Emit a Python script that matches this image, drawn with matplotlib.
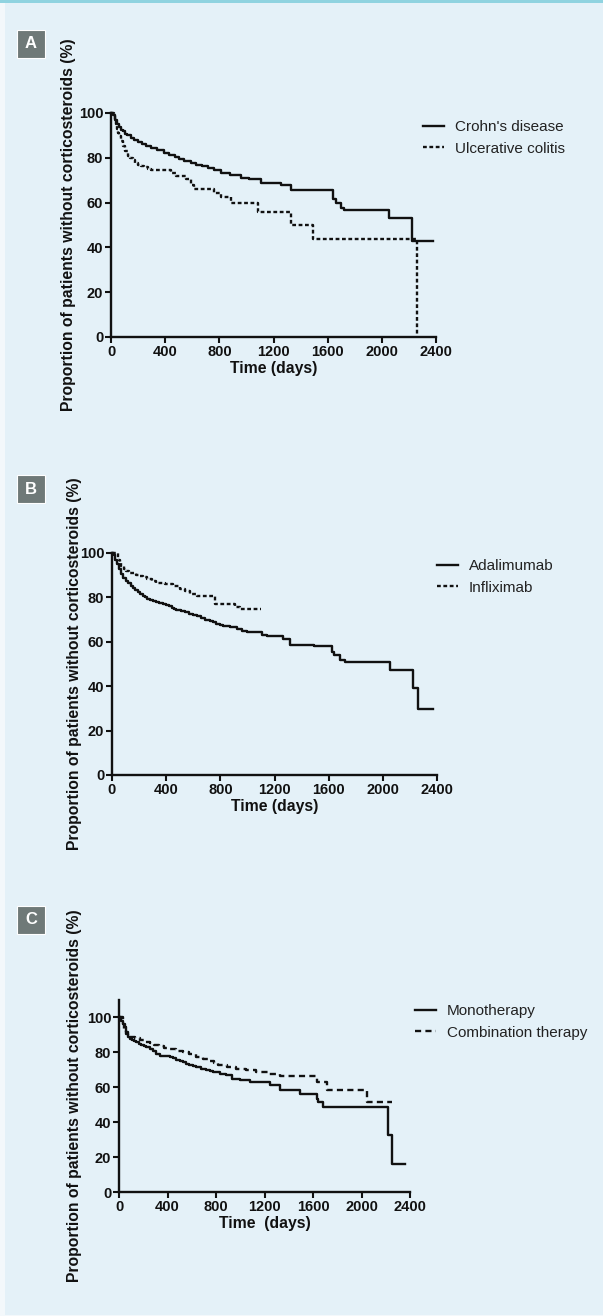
import matplotlib
matplotlib.use('Agg')
import matplotlib.pyplot as plt
from matplotlib.patches import Rectangle

plt.rcParams['font.family'] = ['Liberation Sans', 'DejaVu Sans']

W, H = 603, 1316
BG = '#E4F1F8'

# Panel A: Crohn's disease vs ulcerative colitis
a_cd_days = [0, 15, 30, 45, 60, 75, 86, 105, 120, 145, 172, 200, 230, 260, 295, 340, 394, 430, 470, 505,
             542, 590, 630, 670, 714, 760, 812, 880, 960, 1020, 1108, 1255, 1329, 1637, 1662, 1699, 1724,
             2055, 2224, 2376]
a_cd_pct = [100, 99, 97, 95.3, 93.8, 92.6, 91.9, 90.8, 90, 89, 88.1, 87.2, 86.3, 85.3, 84.4, 83.3, 82.2, 81.1,
            80.2, 79.3, 78.5, 77.7, 77, 76.3, 75.6, 74.5, 73.3, 72.4, 71.1, 70.4, 68.9, 67.7, 65.5, 61.5, 60,
            57.8, 56.7, 53.0, 42.7, 42.7]
a_uc_days = [0, 20, 30, 38, 45, 55, 62, 75, 86, 100, 123, 140, 160, 180, 197, 220, 240, 270, 295, 443, 480,
             554, 591, 615, 763, 812, 886, 1083, 1329, 1489, 2257]
a_uc_pct = [100, 98.5, 97, 95, 93, 91, 89.6, 87.4, 85.2, 83.2, 80.7, 79.8, 78.8, 77.8, 77, 76.2, 75.8, 75.2,
            74.7, 73.2, 71.9, 70.4, 67.7, 66.2, 64.4, 62.7, 59.7, 56, 50.1, 43.7, 0]

# Panel B: adalimumab vs infliximab
b_ada_days = [0, 15, 25, 35, 50, 65, 81, 100, 120, 138, 155, 172, 190, 210, 229, 245, 260, 280, 303, 325,
              350, 375, 402, 420, 440, 458, 476, 508, 540, 570, 599, 630, 660, 690, 723, 745, 770, 795, 822,
              870, 920, 960, 994, 1105, 1142, 1266, 1315, 1488, 1625, 1636, 1685, 1722, 2055, 2223, 2257, 2371]
b_ada_pct = [100, 99, 97, 95, 93, 90.5, 88.7, 87.3, 86.3, 85.2, 84.2, 83.3, 82.4, 81.6, 80.8, 80.1, 79.5, 78.8,
             78.2, 77.8, 77.5, 77.1, 76.7, 76, 75.4, 74.9, 74.4, 73.8, 73.3, 72.7, 72.2, 71.5, 70.7, 70, 69.2,
             68.7, 68.2, 67.7, 67.2, 66.5, 65.7, 65, 64.2, 63.2, 62.4, 61.2, 58.6, 57.9, 55.6, 54.1, 51.9, 50.7,
             47.4, 39.1, 29.6, 29.6]
b_ifx_days = [0, 44, 56, 69, 85, 106, 128, 150, 178, 205, 232, 260, 295, 328, 390, 451, 501, 540, 575, 624,
              760, 908, 945, 1098]
b_ifx_pct = [100, 97, 95.5, 94, 92.8, 91.7, 91.2, 90.8, 90.3, 89.8, 89.1, 88.5, 87.5, 86.5, 85.9, 85.3, 83.8,
             82.7, 81.7, 80.5, 77, 75.9, 74.9, 74.9]

# Panel C: monotherapy vs combination therapy
c_mono_days = [0, 20, 33, 47, 60, 74, 92, 110, 126, 143, 165, 185, 205, 226, 253, 280, 308, 336, 377, 418,
               444, 470, 500, 528, 555, 580, 610, 638, 680, 721, 750, 776, 830, 886, 928, 1000, 1079, 1244,
               1327, 1492, 1629, 1643, 1684, 2221, 2254, 2358]
c_mono_pct = [100, 98, 96, 94.3, 91.5, 88.6, 87.7, 87, 86.4, 85.8, 85, 84.3, 83.6, 82.9, 81.7, 80.5, 79.3, 78.2,
              77.7, 77.2, 76.5, 75.8, 75.1, 74.4, 73.6, 72.8, 72.1, 71.5, 70.7, 70, 69.3, 68.7, 67.7, 66.8, 64.9,
              64, 63, 61.1, 58.3, 56.4, 53.5, 51.6, 48.8, 32.6, 16.1, 16.1]
c_combo_days = [0, 30, 45, 61, 75, 88, 130, 170, 210, 253, 290, 330, 375, 418, 470, 528, 580, 638, 690, 748,
                780, 817, 890, 969, 1050, 1134, 1230, 1327, 1629, 1712, 2042, 2248]
c_combo_pct = [100, 96, 93, 90.5, 89.7, 89, 88, 87, 86.1, 85.2, 84.3, 83.5, 82.7, 81.9, 81, 80.1, 78.8, 77.6,
               76.4, 75.3, 74, 72.5, 71.5, 70.6, 69.7, 68.7, 67.4, 66.2, 63, 58.3, 51.6, 51.6]

x_ticks = [0, 400, 800, 1200, 1600, 2000, 2400]
y_ticks = [0, 20, 40, 60, 80, 100]
ylabel = 'Proportion of patients without corticosteroids (%)'

fig = plt.figure(figsize=(W / 100, H / 100), dpi=100)
fig.patch.set_facecolor('#F3F8FB')
fig.patches.append(Rectangle((5 / W, 1 / H), 598 / W, 1312 / H, transform=fig.transFigure,
                             facecolor=BG, edgecolor='none', zorder=-10))
fig.patches.append(Rectangle((0, 1 - 3 / H), 1, 3 / H, transform=fig.transFigure,
                             facecolor='#8FD3E0', edgecolor='none', zorder=-10))


def px_axes(left, right, top, bottom):
    return fig.add_axes([left / W, 1 - bottom / H, (right - left) / W, (bottom - top) / H])


def panel(ax, series, ymax, letter, letter_y, ylab_x, xlabel, leg_x, leg_y):
    ax.set_facecolor('none')
    for days, pct, ls, name in series:
        ax.plot(days, pct, drawstyle='steps-post', color='#111111', lw=1.7, linestyle=ls, label=name,
                clip_on=False)
    ax.set_xlim(0, 2400)
    ax.set_ylim(0, ymax)
    ax.set_xticks(x_ticks)
    ax.set_yticks(y_ticks)
    for s in ['top', 'right']:
        ax.spines[s].set_visible(False)
    for s in ['left', 'bottom']:
        ax.spines[s].set_linewidth(1.7)
        ax.spines[s].set_color('#111111')
    ax.tick_params(direction='out', length=4, width=1.5, color='#111111', labelsize=10.5, pad=1.5)
    for t in ax.get_xticklabels() + ax.get_yticklabels():
        t.set_fontweight('bold')
        t.set_color('#111111')
    ax.set_xlabel(xlabel, fontsize=11.3, fontweight='bold', color='#111111', labelpad=2)

    bb = ax.get_position()
    yc = (bb.y0 + bb.y1) / 2
    fig.text(ylab_x / W, yc, ylabel, rotation=90, ha='center', va='center',
             fontsize=11.3, fontweight='bold', color='#111111')

    leg = ax.legend(loc='upper left', bbox_to_anchor=(leg_x / W, 1 - leg_y / H),
                    bbox_transform=fig.transFigure, frameon=False, fontsize=11,
                    handlelength=1.35, handletextpad=0.75, labelspacing=0.5, borderpad=0,
                    borderaxespad=0)
    for t in leg.get_texts():
        t.set_color('#222222')

    fig.patches.append(Rectangle((17 / W, 1 - (letter_y + 14) / H), 28 / W, 28 / H,
                                 transform=fig.transFigure, facecolor='#6F7978',
                                 edgecolor='white', lw=0.8, zorder=1))
    fig.text(31 / W, 1 - letter_y / H, letter, ha='center', va='center', color='white',
             fontsize=12, fontweight='bold', zorder=2)


axA = px_axes(111, 436, 113, 337)
panel(axA, [(a_cd_days, a_cd_pct, '-', "Crohn's disease"),
            (a_uc_days, a_uc_pct, (0, (1.6, 1.1)), 'Ulcerative colitis')],
      100, 'A', 44, 69, 'Time (days)', 423, 120)

axB = px_axes(112, 437, 553, 775)
panel(axB, [(b_ada_days, b_ada_pct, '-', 'Adalimumab'),
            (b_ifx_days, b_ifx_pct, (0, (1.6, 1.1)), 'Infliximab')],
      100, 'B', 489, 75, 'Time (days)', 437, 559)

axC = px_axes(119, 410, 1000, 1192)
panel(axC, [(c_mono_days, c_mono_pct, '-', 'Monotherapy'),
            (c_combo_days, c_combo_pct, (0, (2.6, 1.8)), 'Combination therapy')],
      110, 'C', 920, 75, 'Time  (days)', 415, 1004)

fig.savefig('out.png', dpi=100, facecolor=fig.get_facecolor())
